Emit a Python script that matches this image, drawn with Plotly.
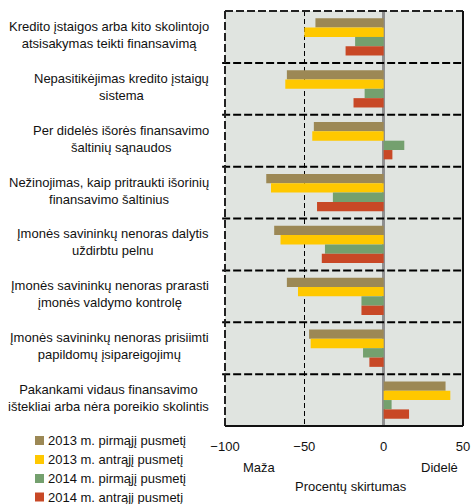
import plotly.graph_objects as go

categories = [
    "Kredito įstaigos arba kito skolintojo<br>atsisakymas teikti finansavimą",
    "Nepasitikėjimas kredito įstaigų<br>sistema",
    "Per didelės išorės finansavimo<br>šaltinių sąnaudos",
    "Nežinojimas, kaip pritraukti išorinių<br>finansavimo šaltinius",
    "Įmonės savininkų nenoras dalytis<br>uždirbtu pelnu",
    "Įmonės savininkų nenoras prarasti<br>įmonės valdymo kontrolę",
    "Įmonės savininkų nenoras prisiimti<br>papildomų įsipareigojimų",
    "Pakankami vidaus finansavimo<br>ištekliai arba nėra poreikio skolintis",
]
series_names = [
    "2013 m. pirmąjį pusmetį",
    "2013 m. antrąjį pusmetį",
    "2014 m. pirmąjį pusmetį",
    "2014 m. antrąjį pusmetį",
]
s2013_h1 = [-43, -61, -44, -74, -69, -61, -47, 39]
s2013_h2 = [-50, -62, -45, -71, -65, -54, -46, 42]
s2014_h1 = [-18, -12, 13, -32, -37, -14, -13, 5]
s2014_h2 = [-24, -19, 5.5, -42, -39, -14, -9, 16]
series_values = [s2013_h1, s2013_h2, s2014_h1, s2014_h2]
colors = ["#9C8855", "#FFC800", "#74A06E", "#C84826"]
x_ticks = [-100, -50, 0, 50]
x_tick_text = ["\u2212100", "\u221250", "0", "50"]

FONT = "Liberation Sans, Arial, sans-serif"
FS = 13
W, H = 472, 504
ML, MR, MT, MB = 225, 9, 11, 78
PW, PH = W - ML - MR, H - MT - MB


def px_x(p):
    return (p - ML) / PW


def px_y(p):
    return (H - MB - p) / PH


fig = go.Figure()
for name, vals, col in zip(series_names, series_values, colors):
    fig.add_trace(go.Bar(
        y=categories, x=vals, orientation="h", name=name,
        marker=dict(color=col, line=dict(width=0)),
        showlegend=False, hoverinfo="skip",
    ))

shapes = []
# category separators
for i in range(len(categories) - 1):
    shapes.append(dict(type="line", xref="paper", yref="y",
                       x0=-0.012, x1=1, y0=i + 0.5, y1=i + 0.5,
                       line=dict(color="black", width=2, dash="8px,3px")))
# borders
shapes.append(dict(type="line", xref="paper", yref="paper", x0=0, x1=1, y0=1, y1=1,
                   line=dict(color="#222", width=2, dash="8px,3px")))
shapes.append(dict(type="line", xref="paper", yref="paper", x0=0, x1=0, y0=0, y1=1,
                   line=dict(color="#222", width=2, dash="8px,3px")))
shapes.append(dict(type="line", xref="paper", yref="paper", x0=1, x1=1, y0=0, y1=1,
                   line=dict(color="#111", width=2)))
shapes.append(dict(type="line", xref="paper", yref="paper", x0=0, x1=1, y0=0, y1=0,
                   line=dict(color="#111", width=2)))

annotations = []
for c in categories:
    annotations.append(dict(x=px_x(211), xref="paper", y=c, yref="y", text=c,
                            showarrow=False, xanchor="right", yanchor="middle",
                            align="center", yshift=2,
                            font=dict(family=FONT, size=FS, color="#111")))
annotations.append(dict(x=px_x(241), xref="paper", y=px_y(467), yref="paper", text="Maža",
                        showarrow=False, xanchor="left", yanchor="middle",
                        font=dict(family=FONT, size=FS, color="#111")))
annotations.append(dict(x=px_x(460), xref="paper", y=px_y(467), yref="paper", text="Didelė",
                        showarrow=False, xanchor="right", yanchor="middle",
                        font=dict(family=FONT, size=FS, color="#111")))
annotations.append(dict(x=px_x(351), xref="paper", y=px_y(486), yref="paper",
                        text="Procentų skirtumas",
                        showarrow=False, xanchor="center", yanchor="middle",
                        font=dict(family=FONT, size=FS, color="#111")))

# legend (swatches + text)
legend_rows = [440.5, 459.5, 478.5, 497]
for name, col, yc in zip(series_names, colors, legend_rows):
    shapes.append(dict(type="rect", xref="paper", yref="paper",
                       x0=px_x(35), x1=px_x(44), y0=px_y(yc + 4.5), y1=px_y(yc - 4.5),
                       fillcolor=col, line=dict(width=0)))
    annotations.append(dict(x=px_x(46), xref="paper", y=px_y(yc), yref="paper",
                            text=name, showarrow=False, xanchor="left", yanchor="middle",
                            font=dict(family=FONT, size=FS, color="#111")))

fig.update_layout(
    width=W, height=H, autosize=False,
    margin=dict(l=ML, r=MR, t=MT, b=MB, autoexpand=False),
    paper_bgcolor="white",
    plot_bgcolor="#E0E4E0",
    barmode="group", bargap=0.28, bargroupgap=0,
    font=dict(family=FONT, size=FS, color="#111"),
    xaxis=dict(range=[-100, 50], tickvals=x_ticks, ticktext=x_tick_text,
               showgrid=True, gridcolor="black", gridwidth=1.2, griddash="5px,3px",
               zeroline=True, zerolinecolor="#8F8F8F", zerolinewidth=3,
               showline=False, ticks="", ticklabelstandoff=11, automargin=False,
               tickfont=dict(family=FONT, size=FS, color="#111")),
    yaxis=dict(range=[7.5, -0.5], showticklabels=False, showgrid=False,
               zeroline=False, showline=False, ticks="", automargin=False),
    shapes=shapes,
    annotations=annotations,
    showlegend=False,
    hovermode=False,
)

fig.write_html("out.html",
               config={"displayModeBar": False, "responsive": False},
               post_script="document.body.style.margin='0';document.body.style.overflow='hidden';")
